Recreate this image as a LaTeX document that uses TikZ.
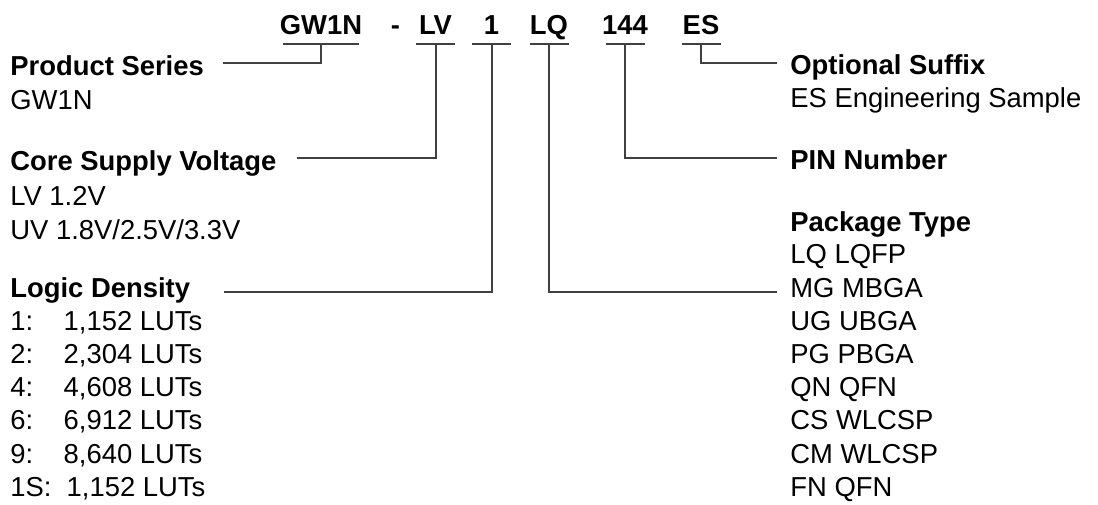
\documentclass[tikz,border=0pt]{standalone}
\usepackage{fontspec}
\setmainfont{Liberation Sans}
\usetikzlibrary{calc}

\begin{document}
\begin{tikzpicture}[
    x=0.5pt, y=-0.5pt,
    every node/.style={inner sep=0pt, anchor=base west, font=\fontsize{13.7}{16}\selectfont},
    code/.style={anchor=base, font=\fontsize{13.7}{16}\selectfont\bfseries},
    head/.style={font=\fontsize{13.7}{16}\selectfont\bfseries},
    lead/.style={draw=black!75, line width=1pt}
]
    \useasboundingbox (0,0) rectangle (1098,504);
    % part number
    \node[code] (gw) at (321,34) {GW1N};
    \node[code] (dash) at (395.5,34) {-};
    \node[code] (lv) at (435.5,34) {LV};
    \node[code] (den) at (491.5,34) {1};
    \node[code] (pkg) at (549,34) {LQ};
    \node[code] (pin) at (625,34) {144};
    \node[code] (sfx) at (701,34) {ES};
    \coordinate (gw-u) at ($(gw.base)+(0,9.5)$);
    \coordinate (lv-u) at ($(lv.base)+(0,9.5)$);
    \coordinate (den-u) at ($(den.base)+(0,9.5)$);
    \coordinate (pkg-u) at ($(pkg.base)+(0,9.5)$);
    \coordinate (pin-u) at ($(pin.base)+(0,9.5)$);
    \coordinate (sfx-u) at ($(sfx.base)+(0,9.5)$);
    \draw[lead] ($(gw-u)+(-38,0)$) -- ++(76,0);
    \draw[lead] ($(lv-u)+(-19.5,0)$) -- ++(39,0);
    \draw[lead] ($(den-u)+(-19.5,0)$) -- ++(39,0);
    \draw[lead] ($(pkg-u)+(-19.5,0)$) -- ++(39,0);
    \draw[lead] ($(pin-u)+(-19.5,0)$) -- ++(39,0);
    \draw[lead] ($(sfx-u)+(-19.5,0)$) -- ++(39,0);

    % left column
    \node[head] (series) at (10,75) {Product Series};
    \node (series-v) at (10,109) {GW1N};
    \node[head] (volt) at (10,170) {Core Supply Voltage};
    \node (volt-l) at (10,205) {LV 1.2V};
    \node (volt-u) at (10,239) {UV 1.8V/2.5V/3.3V};
    \node[head] (logic) at (10,297) {Logic Density};
    \foreach \row [count=\i] in {{1:\ \ \ \ 1,152 LUTs},{2:\ \ \ \ 2,304 LUTs},{4:\ \ \ \ 4,608 LUTs},
            {6:\ \ \ \ 6,912 LUTs},{9:\ \ \ \ 8,640 LUTs},{1S:\ \ 1,152 LUTs}}
        \node (dens\i) at (10,{297+33.2*\i}) {\row};

    % right column
    \node[head] (suffix) at (790,74) {Optional Suffix};
    \node (suffix-v) at (790,107) {ES Engineering Sample};
    \node[head] (pinno) at (790,169) {PIN Number};
    \node[head] (pkgtype) at (790,231) {Package Type};
    \foreach \row [count=\i] in {LQ LQFP,MG MBGA,UG UBGA,PG PBGA,QN QFN,CS WLCSP,CM WLCSP,FN QFN}
        \node (pk\i) at (790,{230.6+33.2*\i}) {\row};

    % leads
    \draw[lead] (gw-u) |- ($(series.base east)+(19,-12)$);
    \draw[lead] (lv-u) |- ($(volt.base east)+(20,-12)$);
    \draw[lead] (den-u) |- ($(logic.base east)+(34,-5)$);
    \draw[lead] (pkg-u) |- ($(pk2.base west)+(-13,-5)$);
    \draw[lead] (pin-u) |- ($(pinno.base west)+(-13,-11)$);
    \draw[lead] (sfx-u) |- ($(suffix.base west)+(-13,-11)$);
\end{tikzpicture}
\end{document}
